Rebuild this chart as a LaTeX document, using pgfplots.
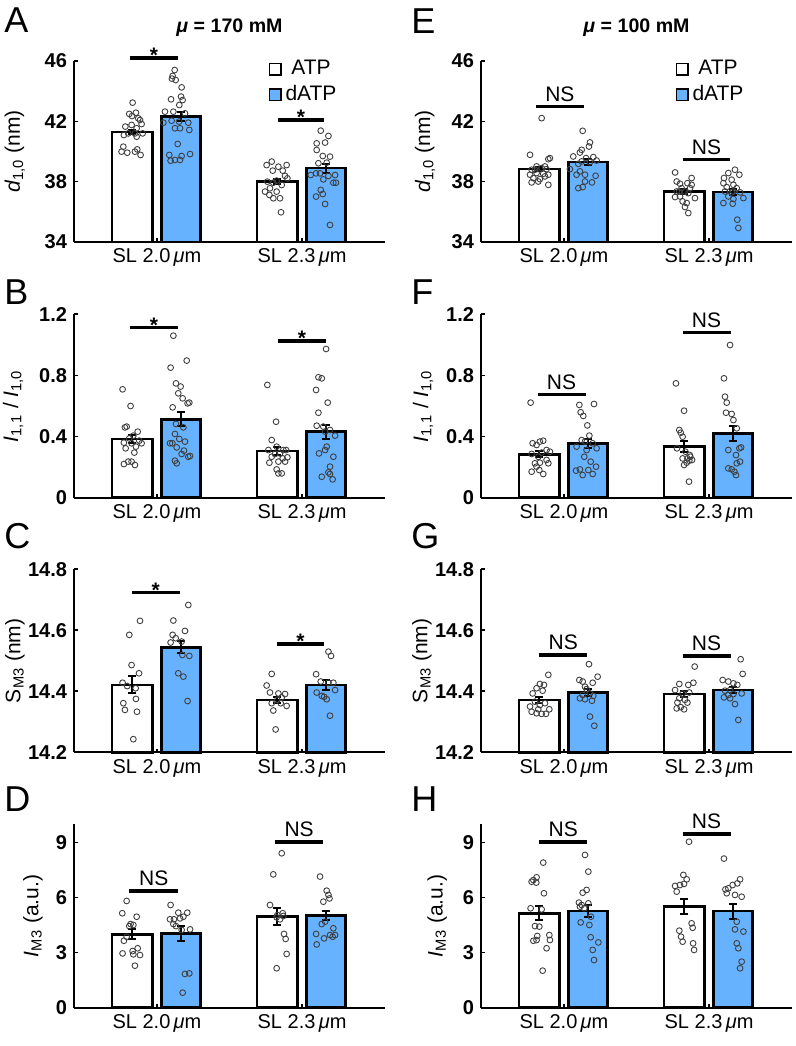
\documentclass[border=0pt]{standalone}
\usepackage{fontspec}
\setmainfont{Liberation Sans}
\usepackage{pgfplots}
\pgfplotsset{compat=1.18}
\definecolor{dblue}{RGB}{102,178,255}
\newcommand\fs{\fontsize{10bp}{11.5bp}\selectfont}
\newcommand\fl{\fontsize{10.5bp}{12bp}\selectfont}
\pgfplotsset{
 panel/.style={
  scale only axis, width=155.5bp, anchor=south west,
  axis lines*=left, axis line style={line width=0.85bp, -},
  xmin=0.428, xmax=2.572, xtick={1,2},
  xticklabels={SL 2.0\,\textit{μ}m, SL 2.3\,\textit{μ}m},
  tick align=inside, major tick length=1.8bp,
  every tick/.style={line width=0.8bp, black},
  clip=false, axis on top,
  ylabel style={at={(axis description cs:-0.19,0.5)}, anchor=center, font=\fl},
  yticklabel style={font=\bfseries\fs},
  xticklabel style={font=\fs},
  /pgf/number format/assume math mode=true,
 },
 atp/.style={draw=black, fill=white, line width=1.3bp, mark=none},
 datp/.style={draw=black, fill=dblue, line width=1.3bp, mark=none},
 err/.style={draw=none, mark=none, forget plot, error bars/.cd, y dir=both, y explicit,
   error mark=-,
   error bar style={draw=black, line width=1bp, solid},
   error mark options={rotate=90, draw=black, line width=1bp, mark size=2bp}},
 pts/.style={only marks, mark=o, mark size=1.45bp, mark options={line width=0.45bp, draw=black!75, fill=none}},
 sig/.style={line width=1.7bp, black, mark=none},
 sqlegend/.style={legend image code/.code={\draw[##1] (0bp,-2.9bp) rectangle (5.8bp,2.9bp);}},
}
% #1 base, #2-#5 ATP1 dATP1 ATP2 dATP2
\newcommand\bars[5]{%
 \addplot[atp] coordinates {(0.69,#1) (0.69,#2) (0.97,#2) (0.97,#1)} -- cycle;
 \addplot[datp] coordinates {(1.03,#1) (1.03,#3) (1.30,#3) (1.30,#1)} -- cycle;
 \addplot[atp] coordinates {(1.69,#1) (1.69,#4) (1.97,#4) (1.97,#1)} -- cycle;
 \addplot[datp] coordinates {(2.03,#1) (2.03,#5) (2.30,#5) (2.30,#1)} -- cycle;
}
\newcommand\errs[8]{%
 \addplot[err] coordinates {(0.83,#1) +- (0,#2) (1.165,#3) +- (0,#4) (1.83,#5) +- (0,#6) (2.165,#7) +- (0,#8)};
}
% #1 x1, #2 x2, #3 mid, #4 y
\newcommand\sigstar[4]{%
 \addplot[sig] coordinates {(#1,#4) (#2,#4)};
 \node[anchor=base, inner sep=0pt, font=\bfseries\fontsize{10.5bp}{12bp}\selectfont, yshift=-2.4bp] at (axis cs:#3,#4) {*};
}
\newcommand\signs[4]{%
 \addplot[sig] coordinates {(#1,#4) (#2,#4)};
 \node[anchor=base, inner sep=0pt, font=\fl, yshift=2.6bp] at (axis cs:#3,#4) {NS};
}
\newcommand\plabel[3]{\node[anchor=base west, inner sep=0pt, font=\fontsize{18bp}{20bp}\selectfont] at (#1,#2) {#3};}
\begin{document}
\begin{tikzpicture}
\useasboundingbox (0,0) rectangle (398bp,523bp);
% ---------- A ----------
\begin{axis}[panel, at={(37bp,402bp)}, height=90.5bp,
 ymin=34, ymax=46, ytick={34,38,42,46},
 ylabel={\textit{d}\textsubscript{1,0} (nm)},
 legend style={at={(axis description cs:0.605,1.05)}, anchor=north west, draw=none, fill=none, font=\fl, row sep=0bp}]
\addlegendimage{sqlegend, draw=black, fill=white, line width=0.7bp}
\addlegendentry{ATP}
\addlegendimage{sqlegend, draw=black, fill=dblue, line width=0.7bp}
\addlegendentry{dATP}
\bars{34}{41.3}{42.3}{38.0}{38.9}
\addplot[pts] coordinates {(0.832,43.24) (0.809,42.49) (0.828,42.35) (0.855,42.57) (0.871,42.20) (0.883,42.09) (0.782,41.65) (0.825,41.76) (0.860,41.54) (0.894,41.82) (0.772,41.09) (0.802,41.20) (0.848,41.20) (0.901,41.20) (0.860,40.98) (0.768,40.32) (0.756,39.99) (0.795,39.92) (0.848,39.99) (0.864,40.14) (0.887,39.77)};
\addplot[pts] coordinates {(1.122,45.40) (1.108,45.01) (1.103,44.83) (1.129,44.74) (1.170,44.25) (1.097,43.46) (1.166,43.64) (1.177,43.41) (1.154,43.08) (1.055,42.64) (1.113,42.64) (1.193,42.53) (1.101,42.04) (1.044,41.91) (1.152,41.98) (1.216,41.91) (1.124,41.54) (1.159,41.54) (1.223,41.43) (1.143,40.50) (1.085,39.77) (1.124,39.44) (1.094,39.39) (1.159,39.44) (1.170,39.70) (1.228,39.83)};
\addplot[pts] coordinates {(1.791,39.33) (1.756,39.10) (1.837,38.99) (1.894,39.10) (1.798,38.73) (1.867,38.73) (1.883,38.38) (1.899,38.22) (1.761,38.00) (1.802,37.93) (1.825,38.07) (1.860,37.78) (1.779,37.56) (1.745,37.34) (1.825,37.34) (1.775,37.12) (1.802,36.90) (1.848,36.90) (1.855,35.97)};
\addplot[pts] coordinates {(2.129,41.38) (2.182,41.03) (2.101,40.54) (2.159,40.59) (2.101,40.10) (2.193,39.66) (2.143,39.70) (2.113,39.22) (2.170,39.26) (2.060,38.44) (2.097,38.55) (2.124,38.55) (2.182,38.38) (2.228,38.44) (2.147,38.15) (2.216,37.93) (2.234,37.93) (2.129,37.45) (2.143,37.18) (2.097,37.01) (2.159,36.52) (2.193,35.13)};
\errs{41.3}{0.15}{42.3}{0.3}{38.0}{0.15}{38.9}{0.3}
\sigstar{0.814}{1.145}{0.98}{46.2}
\sigstar{1.834}{2.152}{1.993}{42.09}
\end{axis}
% ---------- E ----------
\begin{axis}[panel, at={(240.5bp,402bp)}, height=90.5bp,
 ymin=34, ymax=46, ytick={34,38,42,46},
 ylabel={\textit{d}\textsubscript{1,0} (nm)},
 ylabel style={at={(axis description cs:-0.18,0.5)}},
 legend style={at={(axis description cs:0.605,1.05)}, anchor=north west, draw=none, fill=none, font=\fl, row sep=0bp}]
\addlegendimage{sqlegend, draw=black, fill=white, line width=0.7bp}
\addlegendentry{ATP}
\addlegendimage{sqlegend, draw=black, fill=dblue, line width=0.7bp}
\addlegendentry{dATP}
\bars{34}{38.83}{39.29}{37.35}{37.31}
\addplot[pts] coordinates {(0.846,42.21) (0.766,39.78) (0.903,39.56) (0.892,39.49) (0.811,39.01) (0.846,38.90) (0.777,38.79) (0.880,38.83) (0.811,38.57) (0.857,38.52) (0.766,38.46) (0.892,38.46) (0.789,38.24) (0.834,38.17) (0.869,38.35) (0.777,37.95) (0.823,38.01) (0.892,37.79) (0.800,38.79) (0.869,39.01)};
\addplot[pts] coordinates {(1.129,41.37) (1.179,40.60) (1.172,40.33) (1.122,40.11) (1.110,39.93) (1.064,39.67) (1.152,39.56) (1.202,39.63) (1.122,39.34) (1.225,39.40) (1.179,39.29) (1.099,39.18) (1.041,38.83) (1.110,38.68) (1.145,38.46) (1.218,38.39) (1.087,38.46) (1.145,38.01) (1.193,37.95) (1.129,37.64) (1.099,37.57)};
\addplot[pts] coordinates {(1.766,38.61) (1.880,38.24) (1.777,38.01) (1.800,37.86) (1.851,37.90) (1.880,37.79) (1.811,37.57) (1.777,37.35) (1.834,37.35) (1.857,37.24) (1.903,36.91) (1.800,37.02) (1.766,36.98) (1.818,36.69) (1.846,36.58) (1.834,36.32) (1.857,35.92) (1.795,37.35) (1.869,37.57)};
\addplot[pts] coordinates {(2.179,38.79) (2.133,38.57) (2.209,38.46) (2.103,38.24) (2.156,38.13) (2.099,37.90) (2.168,37.79) (2.122,37.64) (2.191,37.57) (2.110,37.35) (2.156,37.29) (2.214,37.29) (2.133,37.02) (2.237,36.91) (2.168,36.85) (2.099,36.58) (2.163,36.54) (2.195,35.48) (2.202,34.93) (2.168,37.35)};
\errs{38.83}{0.15}{39.29}{0.18}{37.35}{0.15}{37.31}{0.2}
\signs{0.807}{1.138}{0.972}{42.97}
\signs{1.821}{2.145}{1.983}{39.48}
\end{axis}
% ---------- B ----------
\begin{axis}[panel, at={(37bp,274.15bp)}, height=91.7bp,
 ymin=0, ymax=1.2, ytick={0,0.4,0.8,1.2}, yticklabels={0,0.4,0.8,1.2},
 ylabel={\textit{I}\textsubscript{1,1} / \textit{I}\textsubscript{1,0}},
 ylabel style={at={(axis description cs:-0.196,0.5)}}]
\bars{0}{0.384}{0.513}{0.305}{0.432}
\addplot[pts] coordinates {(0.763,0.709) (0.818,0.600) (0.791,0.465) (0.779,0.460) (0.867,0.432) (0.837,0.406) (0.809,0.388) (0.878,0.373) (0.894,0.356) (0.772,0.360) (0.825,0.356) (0.855,0.334) (0.784,0.323) (0.844,0.295) (0.802,0.236) (0.772,0.220) (0.825,0.236) (0.848,0.214)};
\addplot[pts] coordinates {(1.113,1.060) (1.205,0.897) (1.094,0.851) (1.131,0.748) (1.163,0.727) (1.147,0.683) (1.177,0.650) (1.223,0.622) (1.211,0.617) (1.108,0.591) (1.131,0.482) (1.182,0.460) (1.124,0.417) (1.154,0.384) (1.106,0.356) (1.193,0.367) (1.136,0.329) (1.186,0.308) (1.170,0.286) (1.216,0.268) (1.228,0.273) (1.124,0.242) (1.136,0.225) (1.090,0.356)};
\addplot[pts] coordinates {(1.761,0.738) (1.821,0.497) (1.791,0.377) (1.825,0.334) (1.768,0.312) (1.871,0.312) (1.890,0.312) (1.848,0.290) (1.814,0.286) (1.791,0.268) (1.867,0.257) (1.899,0.264) (1.837,0.236) (1.775,0.229) (1.883,0.236) (1.825,0.185) (1.837,0.159) (1.860,0.159)};
\addplot[pts] coordinates {(2.166,0.973) (2.113,0.788) (2.136,0.781) (2.097,0.705) (2.177,0.622) (2.113,0.556) (2.101,0.471) (2.147,0.465) (2.193,0.443) (2.159,0.432) (2.228,0.406) (2.170,0.334) (2.117,0.290) (2.159,0.312) (2.216,0.268) (2.193,0.203) (2.182,0.166) (2.193,0.155) (2.136,0.137) (2.211,0.120)};
\errs{0.384}{0.027}{0.513}{0.047}{0.305}{0.025}{0.432}{0.046}
\sigstar{0.814}{1.147}{0.98}{1.115}
\sigstar{1.837}{2.163}{2.0}{1.026}
\end{axis}
% ---------- F ----------
\begin{axis}[panel, at={(240.5bp,274.15bp)}, height=91.7bp,
 ymin=0, ymax=1.2, ytick={0,0.4,0.8,1.2}, yticklabels={0,0.4,0.8,1.2},
 ylabel={\textit{I}\textsubscript{1,1} / \textit{I}\textsubscript{1,0}},
 ylabel style={at={(axis description cs:-0.186,0.5)}}]
\bars{0}{0.284}{0.353}{0.334}{0.421}
\addplot[pts] coordinates {(0.770,0.622) (0.784,0.356) (0.834,0.367) (0.857,0.373) (0.811,0.345) (0.880,0.312) (0.903,0.301) (0.846,0.295) (0.777,0.286) (0.823,0.268) (0.880,0.247) (0.892,0.225) (0.800,0.225) (0.834,0.229) (0.777,0.170) (0.830,0.181) (0.857,0.155) (0.811,0.203)};
\addplot[pts] coordinates {(1.106,0.607) (1.207,0.613) (1.115,0.559) (1.133,0.535) (1.161,0.473) (1.175,0.406) (1.122,0.377) (1.145,0.367) (1.198,0.356) (1.087,0.334) (1.156,0.312) (1.225,0.323) (1.140,0.268) (1.184,0.236) (1.221,0.203) (1.110,0.185) (1.168,0.181) (1.198,0.155) (1.129,0.148) (1.083,0.177)};
\addplot[pts] coordinates {(1.772,0.748) (1.828,0.569) (1.795,0.443) (1.805,0.425) (1.818,0.399) (1.779,0.323) (1.837,0.301) (1.867,0.279) (1.851,0.257) (1.883,0.247) (1.871,0.268) (1.828,0.214) (1.846,0.229) (1.862,0.105) (1.818,0.257) (1.864,0.242)};
\addplot[pts] coordinates {(2.145,0.999) (2.103,0.781) (2.110,0.661) (2.122,0.622) (2.117,0.556) (2.156,0.548) (2.168,0.508) (2.191,0.454) (2.133,0.312) (2.209,0.323) (2.221,0.329) (2.186,0.279) (2.214,0.236) (2.191,0.225) (2.133,0.192) (2.156,0.185) (2.175,0.170) (2.186,0.148)};
\errs{0.284}{0.02}{0.353}{0.03}{0.334}{0.035}{0.421}{0.05}
\signs{0.818}{1.149}{0.983}{0.674}
\signs{1.818}{2.149}{1.983}{1.080}
\end{axis}
% ---------- C ----------
\begin{axis}[panel, at={(37bp,146.85bp)}, height=91.5bp,
 ymin=14.2, ymax=14.8, ytick={14.2,14.4,14.6,14.8}, yticklabels={14.2,14.4,14.6,14.8},
 ylabel={S\textsubscript{M3} (nm)}]
\bars{14.2}{14.421}{14.544}{14.372}{14.420}
\addplot[pts] coordinates {(0.883,14.631) (0.809,14.585) (0.825,14.486) (0.876,14.459) (0.763,14.428) (0.795,14.417) (0.853,14.410) (0.855,14.375) (0.768,14.361) (0.779,14.339) (0.862,14.333) (0.837,14.243)};
\addplot[pts] coordinates {(1.216,14.683) (1.113,14.632) (1.108,14.585) (1.129,14.574) (1.193,14.598) (1.094,14.560) (1.170,14.563) (1.175,14.519) (1.223,14.516) (1.147,14.459) (1.182,14.448) (1.211,14.368)};
\addplot[pts] coordinates {(1.791,14.457) (1.756,14.419) (1.779,14.396) (1.837,14.393) (1.883,14.391) (1.860,14.380) (1.791,14.361) (1.853,14.361) (1.894,14.352) (1.802,14.337) (1.818,14.275) (1.830,14.372)};
\addplot[pts] coordinates {(2.182,14.530) (2.200,14.516) (2.097,14.456) (2.129,14.432) (2.182,14.428) (2.216,14.428) (2.101,14.396) (2.228,14.404) (2.136,14.385) (2.152,14.382) (2.170,14.374) (2.193,14.320)};
\errs{14.421}{0.028}{14.544}{0.02}{14.372}{0.009}{14.420}{0.016}
\sigstar{0.825}{1.159}{0.992}{14.724}
\sigstar{1.825}{2.154}{1.99}{14.555}
\end{axis}
% ---------- G ----------
\begin{axis}[panel, at={(240.5bp,146.85bp)}, height=91.5bp,
 ymin=14.2, ymax=14.8, ytick={14.2,14.4,14.6,14.8}, yticklabels={14.2,14.4,14.6,14.8},
 ylabel={S\textsubscript{M3} (nm)}]
\bars{14.2}{14.372}{14.397}{14.391}{14.404}
\addplot[pts] coordinates {(0.892,14.454) (0.834,14.424) (0.862,14.421) (0.811,14.410) (0.784,14.393) (0.853,14.402) (0.800,14.366) (0.766,14.350) (0.834,14.355) (0.869,14.361) (0.777,14.333) (0.811,14.328) (0.846,14.326) (0.876,14.326) (0.899,14.341) (0.823,14.341)};
\addplot[pts] coordinates {(1.172,14.489) (1.106,14.437) (1.129,14.432) (1.232,14.448) (1.198,14.428) (1.145,14.415) (1.156,14.407) (1.179,14.393) (1.110,14.377) (1.145,14.374) (1.202,14.385) (1.193,14.369) (1.179,14.317) (1.209,14.287) (1.129,14.388)};
\addplot[pts] coordinates {(1.901,14.481) (1.795,14.424) (1.857,14.421) (1.892,14.428) (1.766,14.404) (1.818,14.393) (1.864,14.396) (1.795,14.377) (1.834,14.372) (1.782,14.363) (1.851,14.363) (1.805,14.348) (1.828,14.341) (1.777,14.344)};
\addplot[pts] coordinates {(2.218,14.505) (2.232,14.457) (2.094,14.437) (2.133,14.432) (2.168,14.426) (2.195,14.421) (2.110,14.402) (2.145,14.404) (2.225,14.393) (2.168,14.391) (2.103,14.380) (2.145,14.377) (2.179,14.358) (2.202,14.306) (2.133,14.388)};
\errs{14.372}{0.01}{14.397}{0.012}{14.391}{0.01}{14.404}{0.01}
\signs{0.830}{1.161}{0.995}{14.519}
\signs{1.818}{2.149}{1.983}{14.516}
\end{axis}
% ---------- D ----------
\begin{axis}[panel, at={(37bp,19.15bp)}, height=91.7bp,
 ymin=0, ymax=10, ytick={0,3,6,9},
 ylabel={\textit{I}\textsubscript{M3} (a.u.)},
 ylabel style={at={(axis description cs:-0.132,0.5)}}]
\bars{0}{4.0}{4.04}{4.96}{5.04}
\addplot[pts] coordinates {(0.791,5.82) (0.761,5.15) (0.860,4.96) (0.818,4.56) (0.809,4.45) (0.837,4.51) (0.772,3.65) (0.791,3.87) (0.867,3.24) (0.832,3.09) (0.763,2.96) (0.883,2.87) (0.837,2.91) (0.848,2.29)};
\addplot[pts] coordinates {(1.094,5.60) (1.147,5.18) (1.182,4.96) (1.209,5.18) (1.117,4.82) (1.090,4.82) (1.159,4.87) (1.113,4.56) (1.131,4.45) (1.170,4.24) (1.228,4.27) (1.193,1.84) (1.223,1.87) (1.177,0.82)};
\addplot[pts] coordinates {(1.860,8.42) (1.802,7.27) (1.779,5.60) (1.830,5.05) (1.871,5.00) (1.825,4.93) (1.848,4.82) (1.876,4.02) (1.887,3.75) (1.894,2.93) (1.825,2.15) (1.867,5.15)};
\addplot[pts] coordinates {(2.124,7.15) (2.170,6.38) (2.182,6.15) (2.147,5.78) (2.189,5.96) (2.136,4.56) (2.159,4.69) (2.097,4.02) (2.216,4.33) (2.193,3.96) (2.211,3.87) (2.228,3.96) (2.101,3.45) (2.152,3.78)};
\errs{4.0}{0.28}{4.04}{0.4}{4.96}{0.45}{5.04}{0.25}
\signs{0.809}{1.147}{0.978}{6.36}
\signs{1.814}{2.147}{1.98}{9.04}
\end{axis}
% ---------- H ----------
\begin{axis}[panel, at={(240.5bp,19.15bp)}, height=91.7bp,
 ymin=0, ymax=10, ytick={0,3,6,9},
 ylabel={\textit{I}\textsubscript{M3} (a.u.)},
 ylabel style={at={(axis description cs:-0.141,0.5)}}]
\bars{0}{5.15}{5.27}{5.51}{5.27}
\addplot[pts] coordinates {(0.857,7.91) (0.811,7.11) (0.789,6.96) (0.777,6.87) (0.809,6.82) (0.862,6.24) (0.770,5.42) (0.846,5.36) (0.800,4.45) (0.830,4.42) (0.899,3.96) (0.816,3.91) (0.903,3.69) (0.789,3.65) (0.811,3.69) (0.880,3.24) (0.853,2.02)};
\addplot[pts] coordinates {(1.145,8.33) (1.168,7.42) (1.156,6.42) (1.129,6.27) (1.103,5.73) (1.122,5.60) (1.168,5.69) (1.110,5.51) (1.140,5.42) (1.186,4.96) (1.115,4.65) (1.175,4.51) (1.184,3.84) (1.237,3.56) (1.198,3.15) (1.207,2.60)};
\addplot[pts] coordinates {(1.862,9.05) (1.823,7.24) (1.846,7.00) (1.800,6.69) (1.766,6.64) (1.777,6.33) (1.828,6.75) (1.880,4.60) (1.887,4.36) (1.795,4.20) (1.807,3.87) (1.818,3.60) (1.890,3.51) (1.897,3.15)};
\addplot[pts] coordinates {(2.103,8.13) (2.214,7.00) (2.195,6.78) (2.163,6.69) (2.133,6.51) (2.113,6.45) (2.122,6.24) (2.179,6.15) (2.225,6.05) (2.191,4.69) (2.179,4.27) (2.237,4.15) (2.191,3.51) (2.202,3.24) (2.225,2.51) (2.214,2.15)};
\errs{5.15}{0.38}{5.27}{0.35}{5.51}{0.4}{5.27}{0.41}
\signs{0.830}{1.161}{0.995}{9.04}
\signs{1.818}{2.149}{1.983}{9.47}
\end{axis}
% ---------- titles and panel letters ----------
\node[anchor=base, inner sep=0pt, font=\bfseries\fontsize{9.8bp}{11bp}\selectfont] at (114.75bp,506.5bp) {\textit{μ} = 170 mM};
\node[anchor=base, inner sep=0pt, font=\bfseries\fontsize{9.8bp}{11bp}\selectfont] at (318.25bp,506.5bp) {\textit{μ} = 100 mM};
\plabel{2bp}{506.5bp}{A}
\plabel{205.5bp}{506bp}{E}
\plabel{2bp}{370.5bp}{B}
\plabel{205.5bp}{370.5bp}{F}
\plabel{2bp}{248.5bp}{C}
\plabel{205.5bp}{248.5bp}{G}
\plabel{2bp}{117bp}{D}
\plabel{205.5bp}{117bp}{H}
\end{tikzpicture}
\end{document}
